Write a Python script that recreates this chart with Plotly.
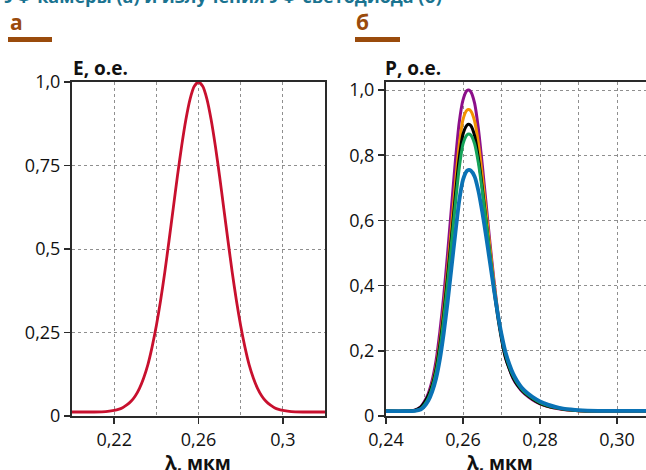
import plotly.graph_objects as go

W, H = 646, 470

# ---------------- data ----------------
# panel a: spectral sensitivity of camera
left_x = [0.200, 0.210, 0.216, 0.220, 0.222, 0.224, 0.226, 0.228, 0.230, 0.232, 0.234,
          0.236, 0.238, 0.240, 0.242, 0.244, 0.246, 0.248, 0.250, 0.252, 0.254, 0.256,
          0.258, 0.260, 0.262, 0.264, 0.266, 0.268, 0.270, 0.272, 0.274, 0.276, 0.278,
          0.280, 0.282, 0.284, 0.286, 0.288, 0.290, 0.292, 0.294, 0.296, 0.298, 0.300,
          0.304, 0.310, 0.320]
left_e = [0.012, 0.012, 0.013, 0.017, 0.020, 0.025, 0.033, 0.044, 0.060, 0.083, 0.114,
          0.154, 0.207, 0.270, 0.345, 0.430, 0.524, 0.621, 0.718, 0.808, 0.887, 0.949,
          0.987, 1.000, 0.987, 0.949, 0.887, 0.808, 0.718, 0.621, 0.524, 0.430, 0.345,
          0.270, 0.207, 0.154, 0.114, 0.083, 0.060, 0.044, 0.033, 0.025, 0.020, 0.017,
          0.013, 0.012, 0.012]

# panel b: LED emission spectra
right_x = [0.240, 0.245, 0.2475, 0.249, 0.250, 0.251, 0.252, 0.253, 0.254, 0.255, 0.256,
           0.257, 0.258, 0.259, 0.260, 0.261, 0.2615, 0.262, 0.263, 0.264, 0.265, 0.266,
           0.267, 0.268, 0.269, 0.270, 0.271, 0.272, 0.273, 0.274, 0.275, 0.276, 0.278,
           0.280, 0.282, 0.284, 0.286, 0.288, 0.290, 0.295, 0.300, 0.310]
p_purple = [0.015, 0.015, 0.018, 0.028, 0.045, 0.070, 0.110, 0.170, 0.260, 0.370, 0.500,
            0.640, 0.780, 0.900, 0.970, 0.998, 1.000, 0.995, 0.960, 0.880, 0.770, 0.650,
            0.530, 0.420, 0.320, 0.240, 0.180, 0.145, 0.115, 0.095, 0.080, 0.068, 0.050,
            0.037, 0.029, 0.024, 0.020, 0.018, 0.016, 0.015, 0.015, 0.015]
p_orange = [0.015, 0.015, 0.017, 0.025, 0.040, 0.062, 0.097, 0.150, 0.230, 0.330, 0.450,
            0.580, 0.710, 0.830, 0.910, 0.938, 0.940, 0.936, 0.905, 0.835, 0.735, 0.625,
            0.515, 0.410, 0.320, 0.245, 0.185, 0.150, 0.120, 0.100, 0.084, 0.071, 0.053,
            0.039, 0.030, 0.025, 0.021, 0.018, 0.016, 0.015, 0.015, 0.015]
p_black = [0.015, 0.015, 0.018, 0.027, 0.042, 0.063, 0.095, 0.145, 0.220, 0.315, 0.430,
           0.550, 0.675, 0.790, 0.865, 0.892, 0.895, 0.891, 0.860, 0.790, 0.700, 0.595,
           0.490, 0.390, 0.305, 0.235, 0.180, 0.145, 0.117, 0.097, 0.082, 0.070, 0.052,
           0.038, 0.030, 0.025, 0.021, 0.018, 0.016, 0.015, 0.015, 0.015]
p_green = [0.015, 0.015, 0.016, 0.022, 0.035, 0.055, 0.087, 0.135, 0.205, 0.300, 0.410,
           0.530, 0.650, 0.760, 0.835, 0.862, 0.865, 0.862, 0.835, 0.775, 0.690, 0.595,
           0.495, 0.400, 0.315, 0.245, 0.190, 0.152, 0.123, 0.102, 0.086, 0.073, 0.055,
           0.041, 0.032, 0.026, 0.022, 0.019, 0.017, 0.016, 0.016, 0.016]
p_blue = [0.015, 0.015, 0.016, 0.020, 0.030, 0.047, 0.075, 0.115, 0.175, 0.255, 0.350,
          0.455, 0.560, 0.660, 0.725, 0.752, 0.755, 0.753, 0.735, 0.690, 0.625, 0.550,
          0.470, 0.390, 0.315, 0.250, 0.197, 0.160, 0.130, 0.108, 0.091, 0.078, 0.059,
          0.045, 0.035, 0.028, 0.023, 0.020, 0.018, 0.016, 0.016, 0.016]

left_xticks = [0.22, 0.26, 0.30]
left_xtext = ["0,22", "0,26", "0,3"]
left_yticks = [0, 0.25, 0.5, 0.75, 1.0]
left_ytext = ["0", "0,25", "0,5", "0,75", "1,0"]
right_xticks = [0.24, 0.26, 0.28, 0.30]
right_xtext = ["0,24", "0,26", "0,28", "0,30"]
right_yticks = [0, 0.2, 0.4, 0.6, 0.8, 1.0]
right_ytext = ["0", "0,2", "0,4", "0,6", "0,8", "1,0"]

# ---------------- figure ----------------
def px(x):
    return x / W


def py(y):
    return 1 - y / H


FONT = "Open Sans"
GRID = "#8f8f8f"
AX = "#2a2a2a"

fig = go.Figure()
fig.add_trace(go.Scatter(x=left_x, y=left_e, mode="lines", line=dict(color="#c8102e", width=2.8, shape="spline", smoothing=0.6),
                         xaxis="x", yaxis="y", showlegend=False, hoverinfo="skip"))
series = [(p_purple, "#8c0f8a", 3.0), (p_orange, "#f39200", 3.0), (p_black, "#000000", 3.0),
          (p_green, "#16a35a", 3.0), (p_blue, "#0a72b5", 3.8)]
for ys, col, w in series:
    fig.add_trace(go.Scatter(x=right_x, y=ys, mode="lines", line=dict(color=col, width=w, shape="spline", smoothing=0.6),
                             xaxis="x2", yaxis="y2", showlegend=False, hoverinfo="skip"))

ydom = [py(416), py(82)]
common_axis = dict(showline=True, linecolor=AX, linewidth=2, ticks="outside", ticklen=6, tickwidth=1.5,
                   tickcolor=AX, showgrid=True, gridcolor=GRID, griddash="dot", gridwidth=1,
                   zeroline=False, automargin=False,
                   tickfont=dict(family=FONT, size=18, color="#111"), fixedrange=True)

fig.update_layout(
    template="none",
    width=W, height=H, margin=dict(l=0, r=0, t=0, b=0, autoexpand=False),
    paper_bgcolor="white", plot_bgcolor="white",
    xaxis=dict(domain=[px(72), px(325)], range=[0.2, 0.32], tickmode="array", tickvals=left_xticks,
               ticktext=left_xtext, anchor="y", mirror=True,
               minor=dict(tick0=0.2, dtick=0.02, showgrid=True, gridcolor=GRID, griddash="dot", ticks=""),
               **common_axis),
    yaxis=dict(domain=ydom, range=[0, 1.0], tickmode="array", tickvals=left_yticks, ticktext=left_ytext,
               anchor="x", mirror=True, **common_axis),
    xaxis2=dict(domain=[px(386), px(646)], range=[0.24, 0.3075], tickmode="array", tickvals=right_xticks,
                ticktext=right_xtext, anchor="y2", mirror=True,
                minor=dict(tick0=0.24, dtick=0.01, showgrid=True, gridcolor=GRID, griddash="dot", ticks=""),
                **common_axis),
    yaxis2=dict(domain=ydom, range=[0, 1.0246], tickmode="array", tickvals=right_yticks, ticktext=right_ytext,
                anchor="x2", mirror=False, **common_axis),
)

brown = "#9a4b0c"
teal = "#1a7390"
ann = [
    dict(text="УФ-камеры (а) и излучения УФ-светодиода (б)", x=px(2), y=py(10), xanchor="left", yanchor="bottom",
         font=dict(family=FONT, size=18, color=teal, weight="bold")),
    dict(text="а", x=px(8), y=py(22), xanchor="left", yanchor="middle", font=dict(family=FONT, size=21, color=brown, weight="bold")),
    dict(text="б", x=px(354), y=py(22), xanchor="left", yanchor="middle", font=dict(family=FONT, size=21, color=brown, weight="bold")),
    dict(text="E, о.е.", x=px(71), y=py(68), xanchor="left", yanchor="middle", font=dict(family=FONT, size=19, color="#111", weight="bold")),
    dict(text="P, о.е.", x=px(383), y=py(68), xanchor="left", yanchor="middle", font=dict(family=FONT, size=19, color="#111", weight="bold")),
    dict(text="λ, мкм", x=px(198), y=py(463), xanchor="center", yanchor="middle", font=dict(family=FONT, size=19, color="#111", weight="bold")),
    dict(text="λ, мкм", x=px(500), y=py(463), xanchor="center", yanchor="middle", font=dict(family=FONT, size=19, color="#111", weight="bold")),
]
for a in ann:
    fig.add_annotation(xref="paper", yref="paper", showarrow=False, **a)

for x0, x1 in [(8, 52), (355, 400)]:
    fig.add_shape(type="rect", xref="paper", yref="paper", x0=px(x0), x1=px(x1), y0=py(42), y1=py(37),
                  fillcolor=brown, line=dict(width=0))

fig.write_html("out.html", config={"displayModeBar": False, "staticPlot": True},
               post_script="document.body.style.margin='0';document.body.style.overflow='hidden';")
